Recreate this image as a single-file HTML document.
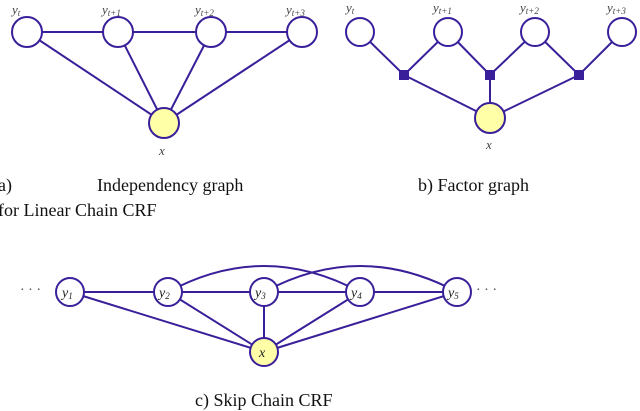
<!DOCTYPE html>
<html><head><style>
body{margin:0;background:#fff;width:640px;height:401px;overflow:hidden;position:relative;font-family:"Liberation Serif",serif}
.t{position:absolute;font-size:18px;color:#111;white-space:nowrap}
</style></head><body>
<svg width="640" height="401" style="position:absolute;left:0;top:0">
<g stroke="#3a1f9a" stroke-width="2" fill="none">
<line x1="27" y1="32" x2="302" y2="32"/>
<line x1="27" y1="32" x2="164" y2="123"/>
<line x1="118" y1="32" x2="164" y2="123"/>
<line x1="211" y1="32" x2="164" y2="123"/>
<line x1="302" y1="32" x2="164" y2="123"/>
<circle cx="27" cy="32" r="15" fill="#fff"/>
<circle cx="118" cy="32" r="15" fill="#fff"/>
<circle cx="211" cy="32" r="15" fill="#fff"/>
<circle cx="302" cy="32" r="15" fill="#fff"/>
<circle cx="164" cy="123" r="15" fill="#ffffa8"/>
<polyline points="360,32 404,75 448,32"/>
<polyline points="448,32 490,75 535,32"/>
<polyline points="535,32 579,75 622,32"/>
<line x1="404" y1="75" x2="490" y2="118"/>
<line x1="490" y1="75" x2="490" y2="118"/>
<line x1="579" y1="75" x2="490" y2="118"/>
<circle cx="360" cy="32" r="14" fill="#fff"/>
<circle cx="448" cy="32" r="14" fill="#fff"/>
<circle cx="535" cy="32" r="14" fill="#fff"/>
<circle cx="622" cy="32" r="14" fill="#fff"/>
<circle cx="490" cy="118" r="15" fill="#ffffa8"/>
<line x1="70" y1="292" x2="457" y2="292"/>
<path d="M168 292 Q264 240 360 292"/>
<path d="M264 292 Q360 240 457 292"/>
<line x1="70" y1="292" x2="264" y2="352"/>
<line x1="168" y1="292" x2="264" y2="352"/>
<line x1="264" y1="292" x2="264" y2="352"/>
<line x1="360" y1="292" x2="264" y2="352"/>
<line x1="457" y1="292" x2="264" y2="352"/>
<circle cx="70" cy="292" r="14" fill="#fff"/>
<circle cx="168" cy="292" r="14" fill="#fff"/>
<circle cx="264" cy="292" r="14" fill="#fff"/>
<circle cx="360" cy="292" r="14" fill="#fff"/>
<circle cx="457" cy="292" r="14" fill="#fff"/>
<circle cx="264" cy="352" r="14" fill="#ffffa8"/>
</g>
<g fill="#3a1f9a">
<rect x="399" y="70" width="10" height="10"/>
<rect x="485" y="70" width="10" height="10"/>
<rect x="574" y="70" width="10" height="10"/>
</g>
<g font-family="Liberation Serif,serif" font-style="italic" fill="#444" font-size="13">
<text x="12" y="14">y<tspan font-size="9" dy="2">t</tspan></text>
<text x="102" y="14">y<tspan font-size="9" dy="2">t+1</tspan></text>
<text x="195" y="14">y<tspan font-size="9" dy="2">t+2</tspan></text>
<text x="286" y="14">y<tspan font-size="9" dy="2">t+3</tspan></text>
<text x="159" y="155">x⃗</text>
<text x="346" y="12">y<tspan font-size="9" dy="2">t</tspan></text>
<text x="433" y="12">y<tspan font-size="9" dy="2">t+1</tspan></text>
<text x="520" y="12">y<tspan font-size="9" dy="2">t+2</tspan></text>
<text x="607" y="12">y<tspan font-size="9" dy="2">t+3</tspan></text>
<text x="486" y="149">x⃗</text>
</g>
<g font-family="Liberation Serif,serif" font-style="italic" fill="#222" font-size="14">
<text x="62" y="297">y<tspan font-size="9" dy="2">1</tspan></text>
<text x="159" y="297">y<tspan font-size="9" dy="2">2</tspan></text>
<text x="255" y="297">y<tspan font-size="9" dy="2">3</tspan></text>
<text x="351" y="297">y<tspan font-size="9" dy="2">4</tspan></text>
<text x="448" y="297">y<tspan font-size="9" dy="2">5</tspan></text>
<text x="259" y="357">x⃗</text>
</g>
<g fill="#444" font-size="14" font-family="Liberation Serif,serif">
<text x="20" y="294">· · ·</text>
<text x="476" y="294">· · ·</text>
</g>
</svg>
<div class="t" style="left:-2px;top:175px">a)</div>
<div class="t" style="left:97px;top:175px">Independency graph</div>
<div class="t" style="left:-2px;top:200px">for Linear Chain CRF</div>
<div class="t" style="left:418px;top:175px">b) Factor graph</div>
<div class="t" style="left:195px;top:390px">c) Skip Chain CRF</div>
</body></html>
